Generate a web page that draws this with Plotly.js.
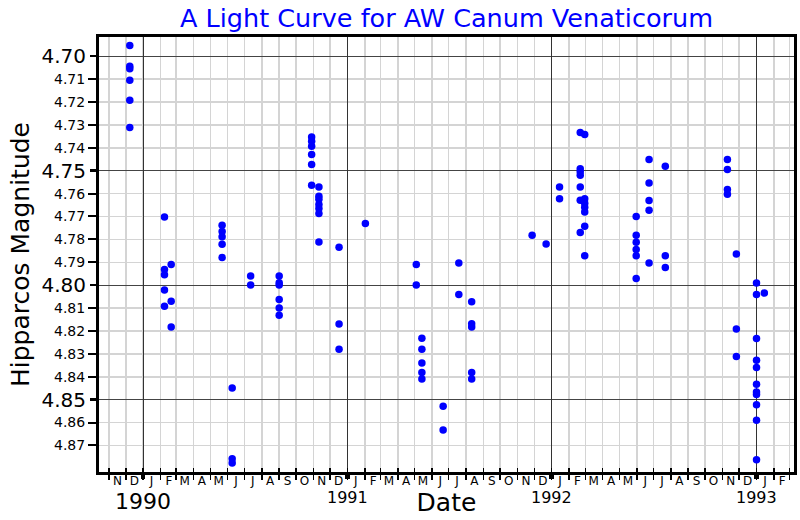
<!DOCTYPE html>
<html>
<head>
<meta charset="utf-8">
<script src="https://cdn.plot.ly/plotly-3.0.1.min.js"></script>
<style>
  html, body { margin: 0; padding: 0; background: #fff; }
  #chart { width: 800px; height: 520px; }
</style>
</head>
<body>
<div id="chart"></div>
<script>
// ---- data ----
const obsDates = [
  '1989-12-08','1989-12-08','1989-12-08','1989-12-08','1989-12-08','1989-12-08',
  '1990-02-08','1990-02-08','1990-02-08','1990-02-08','1990-02-08',
  '1990-02-20','1990-02-20','1990-02-20',
  '1990-05-22','1990-05-22','1990-05-22','1990-05-22','1990-05-22',
  '1990-06-09','1990-06-09','1990-06-09',
  '1990-07-12','1990-07-12',
  '1990-09-01','1990-09-01','1990-09-01','1990-09-01','1990-09-01','1990-09-01',
  '1990-10-29','1990-10-29','1990-10-29','1990-10-29','1990-10-29','1990-10-29',
  '1990-11-11','1990-11-11','1990-11-11','1990-11-11','1990-11-11','1990-11-11','1990-11-11',
  '1990-12-17','1990-12-17','1990-12-17',
  '1991-02-02',
  '1991-05-04','1991-05-04',
  '1991-05-14','1991-05-14','1991-05-14','1991-05-14','1991-05-14',
  '1991-06-21','1991-06-21',
  '1991-07-19','1991-07-19',
  '1991-08-11','1991-08-11','1991-08-11','1991-08-11','1991-08-11',
  '1991-11-27',
  '1991-12-22',
  '1992-01-15','1992-01-15',
  '1992-02-21','1992-02-21','1992-02-21','1992-02-21','1992-02-21','1992-02-21','1992-02-21',
  '1992-02-29','1992-02-29','1992-02-29','1992-02-29','1992-02-29','1992-02-29','1992-02-29',
  '1992-05-31','1992-05-31','1992-05-31','1992-05-31','1992-05-31','1992-05-31',
  '1992-06-23','1992-06-23','1992-06-23','1992-06-23','1992-06-23',
  '1992-07-22','1992-07-22','1992-07-22',
  '1992-11-10','1992-11-10','1992-11-10','1992-11-10',
  '1992-11-26','1992-11-26','1992-11-26',
  '1993-01-01','1993-01-01','1993-01-01','1993-01-01','1993-01-01','1993-01-01',
  '1993-01-01','1993-01-01','1993-01-01','1993-01-01','1993-01-01',
  '1993-01-15'
];
const magnitudes = [
  4.6953, 4.7044, 4.7055, 4.7105, 4.7192, 4.7311,
  4.7702, 4.7932, 4.7954, 4.8021, 4.8092,
  4.7910, 4.8070, 4.8183,
  4.7738, 4.7765, 4.7789, 4.7821, 4.7879,
  4.8449, 4.8758, 4.8777,
  4.7960, 4.7999,
  4.7960, 4.7989, 4.7999, 4.8063, 4.8100, 4.8131,
  4.7353, 4.7371, 4.7393, 4.7429, 4.7473, 4.7564,
  4.7571, 4.7612, 4.7625, 4.7648, 4.7665, 4.7687, 4.7811,
  4.7834, 4.8170, 4.8280,
  4.7731,
  4.7910, 4.7999,
  4.8232, 4.8280, 4.8340, 4.8381, 4.8410,
  4.8529, 4.8633,
  4.7903, 4.8041,
  4.8072, 4.8168, 4.8183, 4.8381, 4.8410,
  4.7782,
  4.7820,
  4.7571, 4.7622,
  4.7333, 4.7491, 4.7505, 4.7520, 4.7571, 4.7629, 4.7770,
  4.7342, 4.7622, 4.7642, 4.7660, 4.7680, 4.7743, 4.7872,
  4.7700, 4.7782, 4.7813, 4.7844, 4.7872, 4.7971,
  4.7451, 4.7554, 4.7630, 4.7673, 4.7903,
  4.7481, 4.7872, 4.7923,
  4.7451, 4.7495, 4.7582, 4.7603,
  4.7864, 4.8191, 4.8311,
  4.7990, 4.8041, 4.8233, 4.8328, 4.8360, 4.8433,
  4.8467, 4.8477, 4.8522, 4.8590, 4.8762,
  4.8034
];

// ---- tick labels ----
const majorYTicks = [4.70, 4.75, 4.80, 4.85];
const minorYTicks = [4.71, 4.72, 4.73, 4.74, 4.76, 4.77, 4.78, 4.79, 4.81, 4.82, 4.83, 4.84, 4.86, 4.87];
const monthLetters = ['J','F','M','A','M','J','J','A','S','O','N','D'];
const yearLabels = ['1990', '1991', '1992', '1993'];
const yearTicks = ['1990-01-01', '1991-01-01', '1992-01-01', '1993-01-01'];

// ---- axis helpers ----
const xRange = ['1989-10-14', '1993-03-09'];
const yRange = [4.8816, 4.6916];
const pad = n => (n < 10 ? '0' : '') + n;
const monthStarts = [], monthMids = [], monthText = [];
for (let y = 1989; y <= 1993; y++) {
  for (let m = 1; m <= 12; m++) {
    const key = y * 100 + m;
    if (key < 198911 || key > 199303) continue;
    monthStarts.push(y + '-' + pad(m) + '-01');
    if (key <= 199302) {
      monthMids.push(y + '-' + pad(m) + '-16');
      monthText.push(monthLetters[m - 1]);
    }
  }
}

const FONT = 'DejaVu Sans, sans-serif';

// empty helper traces so that the overlay axes get drawn
const helper = (xa, ya) => ({
  type: 'scatter', mode: 'markers', x: [], y: [],
  xaxis: xa, yaxis: ya, hoverinfo: 'skip', showlegend: false
});

const trace = {
  type: 'scatter', mode: 'markers',
  x: obsDates, y: magnitudes,
  xaxis: 'x', yaxis: 'y',
  marker: { color: '#0000ff', size: 7.5 },
  hoverinfo: 'x+y', showlegend: false
};

const layout = {
  width: 800, height: 520,
  margin: { l: 99, r: 6, t: 37, b: 48, pad: 0 },
  paper_bgcolor: '#ffffff', plot_bgcolor: '#ffffff',
  font: { family: FONT, color: '#000' },
  showlegend: false,
  title: {
    text: 'A Light Curve for AW Canum Venaticorum',
    font: { family: FONT, size: 25.5, color: '#0000ff' },
    x: 0.5, xref: 'paper', xanchor: 'center',
    y: 0.965, yref: 'container', yanchor: 'middle'
  },
  xaxis: {
    type: 'date', range: xRange,
    tickmode: 'array', tickvals: monthStarts,
    ticks: 'outside', ticklen: 5, tickwidth: 1.5, tickcolor: '#000',
    showticklabels: false,
    showgrid: true, gridcolor: '#d4d4d4', gridwidth: 1.5,
    showline: true, linecolor: '#000', linewidth: 3, mirror: true,
    zeroline: false, automargin: false
  },
  xaxis2: {
    type: 'date', range: xRange, overlaying: 'x', anchor: 'y', side: 'bottom',
    tickmode: 'array', tickvals: yearTicks,
    ticks: 'outside', ticklen: 6, tickwidth: 4.5, tickcolor: '#000',
    showticklabels: false,
    showgrid: true, gridcolor: '#333333', gridwidth: 1,
    minor: { dtick: 'M1', tick0: '1990-01-01', ticks: 'inside', ticklen: 4, tickwidth: 1.5, tickcolor: '#000', showgrid: false },
    showline: false, zeroline: false, automargin: false
  },
  xaxis3: {
    type: 'date', range: xRange, overlaying: 'x', anchor: 'y', side: 'bottom',
    tickmode: 'array', tickvals: monthMids, ticktext: monthText,
    ticks: '', tickfont: { family: FONT, size: 12, color: '#000' },
    showgrid: false, showline: false, zeroline: false, automargin: false,
    title: { text: 'Date', font: { family: FONT, size: 25, color: '#000' }, standoff: 6 }
  },
  yaxis: {
    range: yRange, autorange: false,
    tickmode: 'array', tickvals: minorYTicks, ticktext: minorYTicks.map(v => v.toFixed(2)),
    tickfont: { family: FONT, size: 14, color: '#000' },
    ticks: 'outside', ticklen: 8, tickwidth: 2, tickcolor: '#000',
    showgrid: true, gridcolor: '#d4d4d4', gridwidth: 1.5,
    showline: true, linecolor: '#000', linewidth: 3, mirror: true,
    zeroline: false, automargin: false
  },
  yaxis2: {
    range: yRange, autorange: false, overlaying: 'y', anchor: 'x', side: 'left',
    tickmode: 'array', tickvals: majorYTicks, ticktext: majorYTicks.map(v => v.toFixed(2)),
    tickfont: { family: FONT, size: 20, color: '#000' },
    ticks: 'outside', ticklen: 8, tickwidth: 2.5, tickcolor: '#000',
    showgrid: true, gridcolor: '#444444', gridwidth: 1,
    showline: false, zeroline: false, automargin: false,
    title: { text: 'Hipparcos Magnitude', font: { family: FONT, size: 25, color: '#000' }, standoff: 4 }
  },
  annotations: yearLabels.map((t, i) => ({
    text: t, x: yearTicks[i], xref: 'x', y: i === 0 ? -0.068 : -0.059, yref: 'paper',
    xanchor: 'center', yanchor: 'middle', showarrow: false,
    font: { family: FONT, size: i === 0 ? 22 : 16, color: '#000' }
  }))
};

Plotly.newPlot('chart', [
  helper('x2', 'y'), helper('x3', 'y'), helper('x', 'y2'),
  trace
], layout, { staticPlot: true, displayModeBar: false });
</script>
</body>
</html>
